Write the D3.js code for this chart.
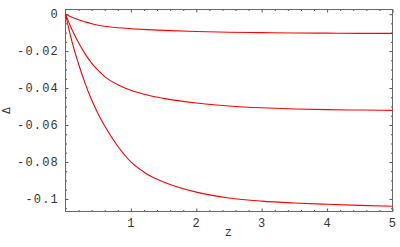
<!DOCTYPE html>
<html>
<head>
<meta charset="utf-8">
<script src="https://cdn.jsdelivr.net/npm/d3@7"></script>
<style>
  body { margin: 0; background: #fff; }
  .lbl { font-family: "Liberation Mono", monospace; font-size: 12px; fill: #333; letter-spacing: 1.2px; }
</style>
</head>
<body>
<script>
// Data
const zValues = [0, 0.1, 0.2, 0.3, 0.4, 0.5, 0.6, 0.8, 1.0, 1.25, 1.5, 2, 2.5, 3, 3.5, 4, 4.5, 5];
const topSeries = [0, -0.0017, -0.0031, -0.0042, -0.0052, -0.0060, -0.0066, -0.0074, -0.0079, -0.0084, -0.0088, -0.0094, -0.0098, -0.0100, -0.0102, -0.0103, -0.0104, -0.0104];
const midSeries = [0, -0.0085, -0.0155, -0.0215, -0.0265, -0.0305, -0.0338, -0.0382, -0.0412, -0.0438, -0.0456, -0.0481, -0.0497, -0.0507, -0.0513, -0.0517, -0.0519, -0.0521];
const lowSeries = [0, -0.0150, -0.0270, -0.0375, -0.0465, -0.0540, -0.0605, -0.0715, -0.0800, -0.0866, -0.0908, -0.0963, -0.0995, -0.1012, -0.1022, -0.1029, -0.1035, -0.1040];
const xTicks = [1, 2, 3, 4, 5];
const yTicks = [0, -0.02, -0.04, -0.06, -0.08, -0.1];
const xLabel = 'z';
const yLabel = 'Δ';

const width = 400;
const height = 247;

const svg = d3.select('body')
  .append('svg')
  .attr('width', width)
  .attr('height', height);

const x = d3.scaleLinear().domain([0, 5]).range([65.5, 392.5]);
const y = d3.scaleLinear().domain([0.0025, -0.1068]).range([9.5, 211.5]);

// minor ticks
const xMinor = d3.range(0.2, 5, 0.2).filter(v => Math.abs(v - Math.round(v)) > 1e-6);
const yMinor = d3.range(0, -0.106, -0.005).filter(v => Math.abs(v / 0.02 - Math.round(v / 0.02)) > 1e-6);

const xFmt = d => String(d);
const yFmt = d => d === 0 ? '0' : '-' + String(Math.abs(+d.toFixed(3)));

function frameAxis(axisFn, scale, major, minor, fmt, pos) {
  const g = svg.append('g').attr('transform', pos);
  g.append('g').call(axisFn(scale).tickValues(minor).tickSizeInner(-1.5).tickSizeOuter(0).tickFormat(''));
  const m = g.append('g').call(axisFn(scale).tickValues(major).tickSizeInner(-3).tickSizeOuter(0)
    .tickPadding(6.5).tickFormat(fmt || ''));
  g.selectAll('.domain').remove();
  g.selectAll('line').attr('stroke', '#555');
  m.selectAll('text').attr('class', 'lbl').attr('fill', null).attr('font-size', null).attr('font-family', null);
  return g;
}

frameAxis(d3.axisBottom, x, xTicks, xMinor, xFmt, 'translate(0,211.5)');
frameAxis(d3.axisTop, x, xTicks, xMinor, null, 'translate(0,9.5)');
frameAxis(d3.axisLeft, y, yTicks, yMinor, yFmt, 'translate(65.5,0)');
frameAxis(d3.axisRight, y, yTicks, yMinor, null, 'translate(392.5,0)');

svg.append('rect')
  .attr('x', 65.5).attr('y', 9.5)
  .attr('width', 327).attr('height', 202)
  .attr('fill', 'none').attr('stroke', '#666').attr('stroke-width', 1);

const line = d3.line()
  .x((d, i) => x(zValues[i]))
  .y(d => y(d))
  .curve(d3.curveMonotoneX);

[topSeries, midSeries, lowSeries].forEach(s => {
  svg.append('path')
    .datum(s)
    .attr('d', line)
    .attr('fill', 'none')
    .attr('stroke', '#ff0000')
    .attr('stroke-width', 1.1);
});

svg.append('text')
  .attr('class', 'lbl')
  .attr('x', 229).attr('y', 236)
  .attr('text-anchor', 'middle')
  .text(xLabel);

svg.append('text')
  .attr('transform', 'translate(10,110.5) rotate(-90)')
  .attr('text-anchor', 'middle')
  .attr('font-family', 'DejaVu Sans')
  .attr('font-size', 10)
  .attr('fill', '#333')
  .text(yLabel);
</script>
</body>
</html>
